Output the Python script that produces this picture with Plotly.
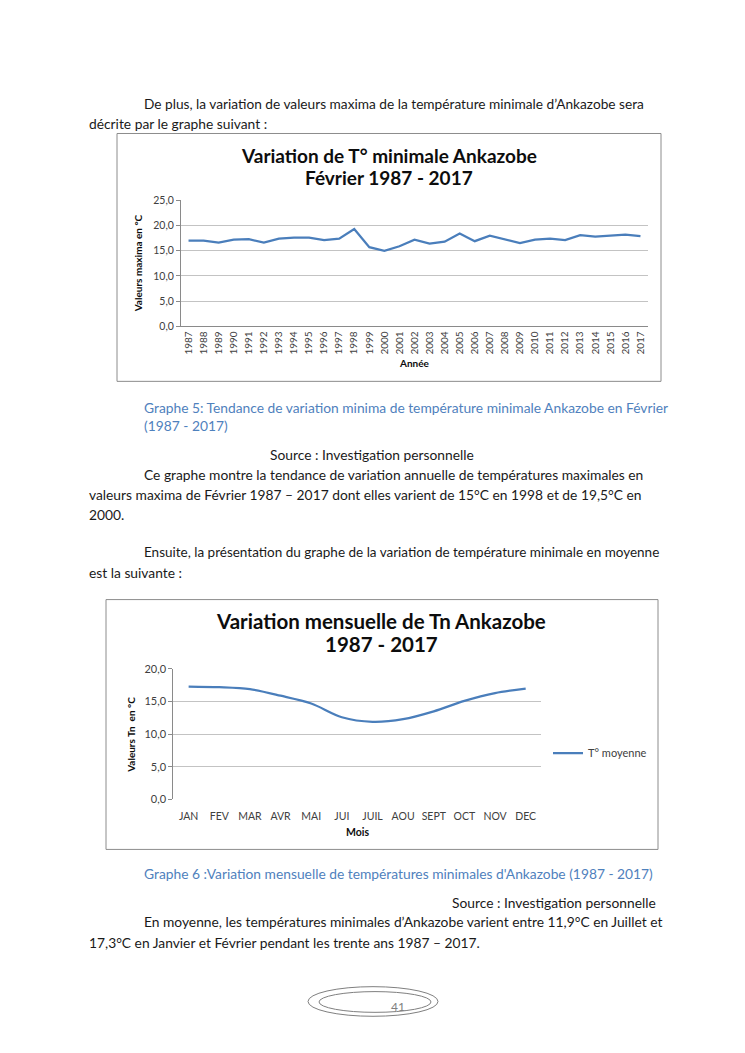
import plotly.graph_objects as go

# ---------------- data ----------------
years = ["1987", "1988", "1989", "1990", "1991", "1992", "1993", "1994", "1995", "1996",
         "1997", "1998", "1999", "2000", "2001", "2002", "2003", "2004", "2005", "2006",
         "2007", "2008", "2009", "2010", "2011", "2012", "2013", "2014", "2015", "2016", "2017"]
feb_max = [17.0, 17.0, 16.6, 17.2, 17.3, 16.6, 17.4, 17.6, 17.6, 17.1,
           17.4, 19.3, 15.7, 15.0, 15.9, 17.2, 16.4, 16.8, 18.4, 16.9,
           18.0, 17.3, 16.5, 17.2, 17.4, 17.1, 18.1, 17.8, 18.0, 18.2, 17.9]

months = ["JAN", "FEV", "MAR", "AVR", "MAI", "JUI", "JUIL", "AOU", "SEPT", "OCT", "NOV", "DEC"]
tn_mean = [17.3, 17.2, 16.9, 15.9, 14.7, 12.6, 11.9, 12.3, 13.5, 15.1, 16.3, 17.0]

y1_ticks = [0, 5, 10, 15, 20, 25]
y2_ticks = [0, 5, 10, 15, 20]

# ---------------- page geometry helpers ----------------
PAGE_W, PAGE_H = 745, 1053
OFF = 8                      # default body margin of the html page
W, H = PAGE_W - 2 * OFF, PAGE_H - 2 * OFF
FONT = "Lato"
LINE = "#4a7ebb"
GRID = "#c3c3c3"
AXC = "#8a8a8a"
TICKC = "#404040"
BLUE = "#4f81bd"
BODY = 13.8


def X(px):
    return (px - OFF) / W


def Y(py):
    return 1 - (py - OFF) / H


fig = go.Figure()

fig.add_trace(go.Scatter(
    x=years, y=feb_max, mode="lines", name="Valeurs maxima",
    line=dict(color=LINE, width=2.25), xaxis="x", yaxis="y", showlegend=False,
))
fig.add_trace(go.Scatter(
    x=months, y=tn_mean, mode="lines", name="T° moyenne",
    line=dict(color=LINE, width=2.25, shape="spline", smoothing=0.9),
    xaxis="x2", yaxis="y2", showlegend=True,
))

axis_common_y = dict(
    showgrid=True, gridcolor=GRID, gridwidth=1, showline=True, linecolor=AXC,
    ticks="outside", ticklen=4, tickcolor=AXC, zeroline=False, tickformat=".1f",
    fixedrange=True,
)

fig.update_layout(
    width=W, height=H, margin=dict(l=0, r=0, t=0, b=0),
    paper_bgcolor="white", plot_bgcolor="white",
    separators=", ",
    font=dict(family=FONT, color="#1a1a1a"),
    xaxis=dict(
        domain=[X(181), X(648)], anchor="y", type="category",
        range=[-0.5, len(years) - 0.5], tickmode="array", tickvals=years, ticktext=years,
        tickangle=-90, showline=True, linecolor=AXC, showgrid=False, ticks="",
        tickfont=dict(family=FONT, size=10, color=TICKC),
    ),
    yaxis=dict(
        domain=[Y(323.3), Y(195.7)], anchor="x", range=[0, 25],
        tickmode="array", tickvals=y1_ticks,
        tickfont=dict(family=FONT, size=10.5, color=TICKC), **axis_common_y,
    ),
    xaxis2=dict(
        domain=[X(173.3), X(541)], anchor="y2", type="category",
        range=[-0.5, len(months) - 0.5], tickmode="array", tickvals=months, ticktext=months,
        tickangle=0, showline=False, showgrid=False, ticks="", ticklabelstandoff=9,
        tickfont=dict(family=FONT, size=10.5, color=TICKC),
    ),
    yaxis2=dict(
        domain=[Y(802.3), Y(670.3)], anchor="x2", range=[0, 20],
        tickmode="array", tickvals=y2_ticks,
        tickfont=dict(family=FONT, size=11, color=TICKC), **axis_common_y,
    ),
    legend=dict(
        x=X(548), y=Y(755.5), xanchor="left", yanchor="middle",
        bgcolor="rgba(0,0,0,0)", borderwidth=0,
        font=dict(family=FONT, size=11, color=TICKC),
        itemwidth=30,
    ),
)

shapes = [
    dict(type="rect", xref="paper", yref="paper", x0=X(117), x1=X(661), y0=Y(379), y1=Y(128),
         line=dict(color="#8c8c8c", width=1)),
    dict(type="rect", xref="paper", yref="paper", x0=X(106), x1=X(658), y0=Y(853), y1=Y(600),
         line=dict(color="#8c8c8c", width=1)),
    dict(type="circle", xref="paper", yref="paper", x0=X(308), x1=X(438), y0=Y(1022), y1=Y(992),
         line=dict(color="#7f7f7f", width=1)),
    dict(type="circle", xref="paper", yref="paper", x0=X(319), x1=X(431), y0=Y(1018), y1=Y(997),
         line=dict(color="#7f7f7f", width=1)),
]
fig.update_layout(shapes=shapes)


def txt(s, x, y, size=BODY, color="#1a1a1a", xanchor="left", bold=False, angle=0, family=FONT):
    if bold:
        s = "<b>" + s + "</b>"
    fig.add_annotation(text=s, x=X(x), y=Y(y), xref="paper", yref="paper",
                       xanchor=xanchor, yanchor="middle", showarrow=False,
                       textangle=angle, borderpad=0,
                       font=dict(family=family, size=size, color=color))


# body text
txt("De plus, la variation de valeurs maxima de la température minimale d’Ankazobe sera", 143, 98, size=13.7)
txt("décrite par le graphe suivant :", 88, 118)

txt("Graphe 5: Tendance de variation minima de température minimale Ankazobe en Février", 143, 405, color=BLUE)
txt("(1987 - 2017)", 143, 424, color=BLUE)
txt("Source : Investigation personnelle", 372, 453, xanchor="center")
txt("Ce graphe montre la tendance de variation annuelle de températures maximales en", 143, 473)
txt("valeurs maxima de Février 1987 – 2017 dont elles varient de 15°C en 1998 et de 19,5°C en", 88, 494)
txt("2000.", 88, 514)
txt("Ensuite, la présentation du graphe de la variation de température minimale en moyenne", 143, 552, size=13.5)
txt("est la suivante :", 88, 573)

txt("Graphe 6 :Variation mensuelle de températures minimales d'Ankazobe (1987 - 2017)", 143, 877, color=BLUE)
txt("Source : Investigation personnelle", 657, 907, xanchor="right")
txt("En moyenne, les températures minimales d’Ankazobe varient entre 11,9°C en Juillet et", 143, 926)
txt("17,3°C en Janvier et Février pendant les trente ans 1987 – 2017.", 88, 947)
txt("41", 398, 1012, size=12, color="#7f7f7f", xanchor="center")

# chart 1 titles
txt("Variation de T° minimale Ankazobe", 388.5, 150.5, size=19, bold=True, xanchor="center", color="#0d0d0d")
txt("Février 1987 - 2017", 388.5, 172.5, size=19, bold=True, xanchor="center", color="#0d0d0d")
txt("Valeurs maxima en °C", 138, 259.5, size=10, bold=True, xanchor="center", angle=-90, color="#0d0d0d")
txt("Année", 414.5, 360, size=10, bold=True, xanchor="center", color="#0d0d0d")

# chart 2 titles
txt("Variation mensuelle de Tn Ankazobe", 381, 621.5, size=20.5, bold=True, xanchor="center", color="#0d0d0d")
txt("1987 - 2017", 381, 645, size=20.5, bold=True, xanchor="center", color="#0d0d0d")
txt("Valeurs Tn  en °C", 131, 737, size=10, bold=True, xanchor="center", angle=-90, color="#0d0d0d")
txt("Mois", 357, 835, size=10.5, bold=True, xanchor="center", color="#0d0d0d")

fig.write_html("out.html")
